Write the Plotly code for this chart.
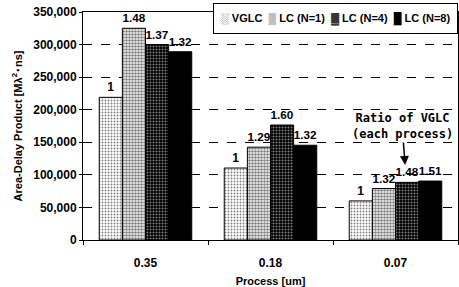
import plotly.graph_objects as go

categories = ["0.35", "0.18", "0.07"]
series_names = ["VGLC", "LC (N=1)", "LC (N=4)", "LC (N=8)"]
vglc = [219000, 110500, 60000]
lc_n1 = [325000, 142500, 79000]
lc_n4 = [300000, 176500, 88500]
lc_n8 = [289000, 145500, 90500]
ratio_vglc = ["1", "1", "1"]
ratio_n1 = ["1.48", "1.29", "1.32"]
ratio_n4 = ["1.37", "1.60", "1.48"]
ratio_n8 = ["1.32", "1.32", "1.51"]
y_ticks = [0, 50000, 100000, 150000, 200000, 250000, 300000, 350000]
y_ticktext = ["0", "50,000", "100,000", "150,000", "200,000", "250,000", "300,000", "350,000"]
legend_symbols = ["░", "▒", "▓", "█"]

values = [vglc, lc_n1, lc_n4, lc_n8]
ratios = [ratio_vglc, ratio_n1, ratio_n4, ratio_n8]
# (dot colour, background colour, solidity)
patterns = [("black", "white", 0.3), ("black", "white", 0.55), ("white", "black", 0.35), None]

fig = go.Figure()
for name, vals, rt, pat in zip(series_names, values, ratios, patterns):
    if pat is None:
        marker = dict(color="black", line=dict(color="black", width=1))
    else:
        fg, bg, sol = pat
        marker = dict(color=bg, line=dict(color="black", width=1),
                      pattern=dict(shape=".", fgcolor=fg, bgcolor=bg,
                                   solidity=sol, size=3))
    fig.add_trace(go.Bar(
        x=categories, y=vals, name=name, marker=marker,
        text=rt, textposition="outside", cliponaxis=False,
        textfont=dict(family="Liberation Sans", size=12, color="black", weight="bold"),
    ))

fig.update_layout(
    width=459, height=287,
    margin=dict(l=83, r=1, t=12, b=47),
    paper_bgcolor="white", plot_bgcolor="white",
    barmode="group", bargap=0.26, bargroupgap=0,
    font=dict(family="Liberation Sans", size=11, color="black"),
    showlegend=False,
    uniformtext=dict(mode=False),
)
fig.update_xaxes(
    automargin=False,
    showline=True, linecolor="black", linewidth=1, mirror=True,
    ticks="outside", ticklen=4, tickcolor="black",
    tickson="boundaries", ticklabelstandoff=12,
    tickfont=dict(size=12, weight="bold"),
    title=dict(text="Process [um]", font=dict(size=11, weight="bold"), standoff=24),
)
fig.update_yaxes(
    automargin=False,
    range=[0, 350000], tickvals=y_ticks, ticktext=y_ticktext,
    showline=True, linecolor="black", linewidth=1, mirror=True,
    showgrid=True, gridcolor="black", griddash="dash", gridwidth=1,
    ticks="outside", ticklen=3, tickcolor="black",
    tickfont=dict(size=12, weight="bold"),
    title=dict(text="Area-Delay Product [Mλ<sup>2</sup>･ns]", font=dict(size=11, weight="bold"), standoff=8),
    zeroline=False,
)

legend_text = "  ".join(f"{s} {n}" for s, n in zip(legend_symbols, series_names))
fig.add_annotation(
    xref="paper", yref="paper", x=1.0, xanchor="right", y=1.039, yanchor="top",
    text=f"<b>{legend_text}</b>", showarrow=False,
    font=dict(size=11, color="black", family="Liberation Sans"),
    bordercolor="black", borderwidth=1, borderpad=7, bgcolor="white",
)
fig.add_annotation(
    xref="paper", yref="paper", x=0.859, y=0.329,
    text="<b>Ratio of VGLC</b><br><b>(each process)</b>",
    showarrow=True, arrowhead=2, arrowsize=1.2, arrowwidth=1.5, arrowcolor="black",
    ax=-3, ay=-39,
    font=dict(size=12, color="black", family="DejaVu Sans Mono"),
    align="center",
)
fig.write_html("out.html", config={"displayModeBar": False},
               post_script="document.body.style.margin='0';document.body.style.overflow='hidden';")
